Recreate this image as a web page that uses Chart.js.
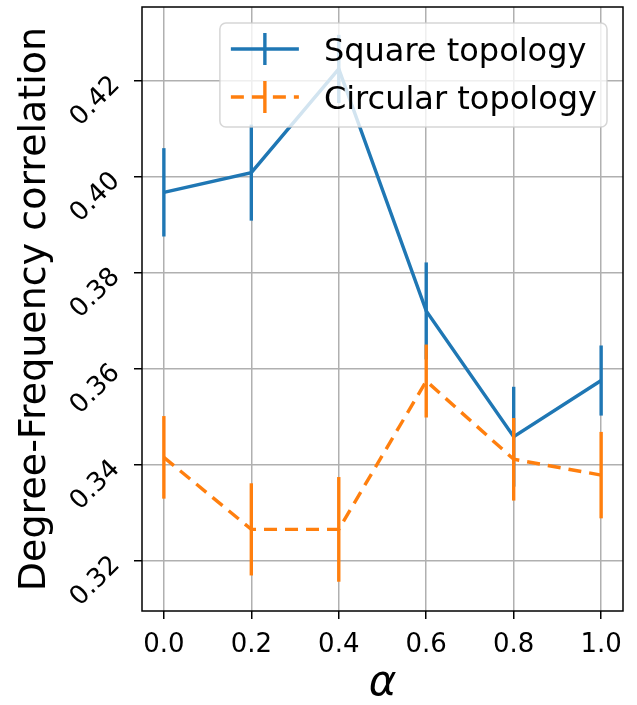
<!DOCTYPE html>
<html lang="en">
  <head>
    <meta charset="UTF-8" />
    <title>Degree-Frequency correlation vs alpha</title>
    <script src="https://cdn.jsdelivr.net/npm/chart.js@4.4.1/dist/chart.umd.min.js"></script>
    <style>
      body {
        margin: 0;
        padding: 0;
        background: white;
      }

      .container {
        width: 637px;
        height: 705px;
      }
    </style>
  </head>
  <body>
    <div class="container">
      <canvas id="chart"></canvas>
    </div>
    <script>
      const alphas = [0.0, 0.2, 0.4, 0.6, 0.8, 1.0]
      const squareVals = [0.3968, 0.4009, 0.4225, 0.3721, 0.3459, 0.3576]
      const squareErr = [0.0092, 0.0100, 0.0071, 0.0101, 0.0104, 0.0073]
      const circularVals = [0.3416, 0.3266, 0.3266, 0.3575, 0.3412, 0.3379]
      const circularErr = [0.0086, 0.0096, 0.0109, 0.0076, 0.0086, 0.0090]
      const xTicks = [0.0, 0.2, 0.4, 0.6, 0.8, 1.0]
      const yTicks = [0.32, 0.34, 0.36, 0.38, 0.40, 0.42]

      const BLUE = '#1f77b4'
      const ORANGE = '#ff7f0e'
      const FONT = "'DejaVu Sans', sans-serif"
      const LW = 3.4

      const toPoints = (vals) => alphas.map((x, i) => ({ x: x, y: vals[i] }))

      // vertical error bars, drawn right after each dataset
      const errorBars = {
        id: 'errorBars',
        afterDatasetDraw(chart, args) {
          const ds = chart.data.datasets[args.index]
          if (!ds.errors) return
          const { ctx, scales } = chart
          ctx.save()
          ctx.strokeStyle = ds.borderColor
          ctx.lineWidth = LW
          ctx.lineCap = 'butt'
          ds.data.forEach((p, i) => {
            const x = scales.x.getPixelForValue(p.x)
            ctx.beginPath()
            ctx.moveTo(x, scales.y.getPixelForValue(p.y - ds.errors[i]))
            ctx.lineTo(x, scales.y.getPixelForValue(p.y + ds.errors[i]))
            ctx.stroke()
          })
          ctx.restore()
        },
      }

      // frame + legend box in the upper right of the plot
      const frameAndLegend = {
        id: 'frameAndLegend',
        afterDraw(chart) {
          const { ctx, chartArea: a } = chart
          ctx.save()
          ctx.strokeStyle = '#000'
          ctx.lineWidth = 1.5
          ctx.strokeRect(a.left, a.top, a.right - a.left, a.bottom - a.top)

          ctx.font = '32px ' + FONT
          const items = chart.data.datasets
          const textW = Math.max(...items.map((d) => ctx.measureText(d.label).width))
          const w = 104 + textW + 10
          const h = 104
          const right = a.right - 16
          const left = right - w
          const top = a.top + 16
          ctx.beginPath()
          ctx.roundRect(left, top, w, h, 6)
          ctx.fillStyle = 'rgba(255,255,255,0.8)'
          ctx.fill()
          ctx.strokeStyle = 'rgba(204,204,204,0.8)'
          ctx.lineWidth = 1.5
          ctx.stroke()

          items.forEach((d, i) => {
            const cy = top + 26 + i * 48
            ctx.strokeStyle = d.borderColor
            ctx.lineWidth = LW
            ctx.setLineDash(d.borderDash || [])
            ctx.beginPath()
            ctx.moveTo(left + 11, cy)
            ctx.lineTo(left + 79, cy)
            ctx.stroke()
            ctx.setLineDash([])
            ctx.beginPath()
            ctx.moveTo(left + 45, cy - 16)
            ctx.lineTo(left + 45, cy + 16)
            ctx.stroke()
            ctx.fillStyle = '#000'
            ctx.textBaseline = 'alphabetic'
            ctx.fillText(d.label, left + 104, cy + 11.7)
          })
          ctx.restore()
        },
      }

      const grid = {
        color: '#b0b0b0',
        lineWidth: 1.5,
        tickColor: '#000',
        tickLength: 8,
        tickWidth: 1.5,
      }

      const ctx = document.getElementById('chart').getContext('2d')
      const chart = new Chart(ctx, {
        type: 'line',
        data: {
          datasets: [
            {
              label: 'Square topology',
              data: toPoints(squareVals),
              errors: squareErr,
              borderColor: BLUE,
              borderWidth: LW,
              pointRadius: 0,
              fill: false,
              order: 1,
            },
            {
              label: 'Circular topology',
              data: toPoints(circularVals),
              errors: circularErr,
              borderColor: ORANGE,
              borderWidth: LW,
              borderDash: [13, 8],
              pointRadius: 0,
              fill: false,
              order: 0,
            },
          ],
        },
        options: {
          animation: false,
          responsive: true,
          maintainAspectRatio: false,
          layout: { padding: { top: 7, right: 14, left: 0, bottom: 0 } },
          plugins: {
            legend: { display: false },
            tooltip: { enabled: false },
          },
          scales: {
            x: {
              type: 'linear',
              min: -0.05,
              max: 1.05,
              afterBuildTicks: (axis) => {
                axis.ticks = xTicks.map((v) => ({ value: v }))
              },
              afterFit: (axis) => {
                axis.height = 94
                axis.paddingLeft = 0
                axis.paddingRight = 0
              },
              grid: grid,
              border: { display: false },
              ticks: {
                color: '#000',
                font: { family: FONT, size: 26 },
                padding: 11,
                maxRotation: 0,
                callback: (v) => v.toFixed(1),
              },
              title: {
                display: true,
                text: 'α',
                color: '#000',
                font: { family: FONT, size: 42, style: 'italic', lineHeight: 1 },
                padding: { top: 0, bottom: 0 },
              },
            },
            y: {
              type: 'linear',
              min: 0.3096,
              max: 0.4354,
              afterBuildTicks: (axis) => {
                axis.ticks = yTicks.map((v) => ({ value: v }))
              },
              afterFit: (axis) => {
                axis.width = 142
                axis.paddingTop = 0
                axis.paddingBottom = 0
              },
              grid: grid,
              border: { display: false },
              ticks: {
                color: '#000',
                font: { family: FONT, size: 26 },
                padding: 18,
                minRotation: 45,
                maxRotation: 45,
                callback: (v) => v.toFixed(2),
              },
              title: {
                display: true,
                text: 'Degree-Frequency correlation',
                color: '#000',
                font: { family: FONT, size: 38 },
                padding: { top: 12, bottom: 0 },
              },
            },
          },
        },
        plugins: [errorBars, frameAndLegend],
      })
    </script>
  </body>
</html>
